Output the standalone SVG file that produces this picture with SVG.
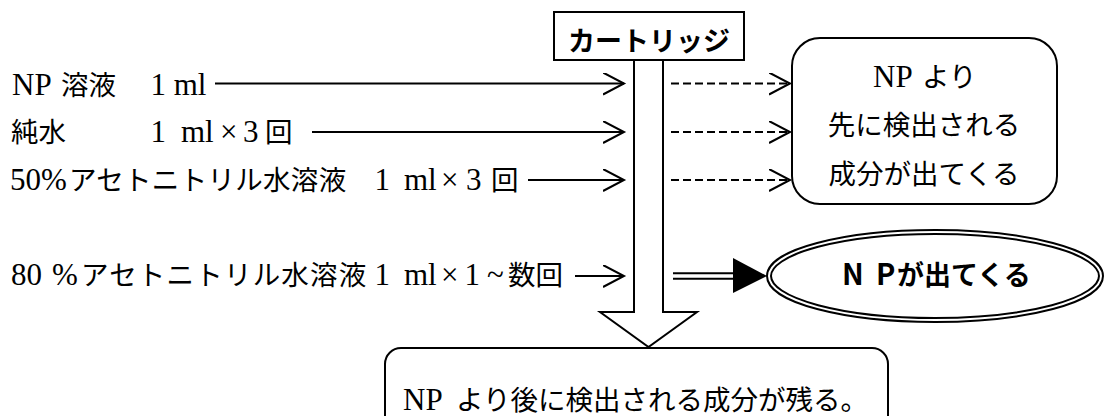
<svg xmlns="http://www.w3.org/2000/svg" width="1104" height="416" viewBox="0 0 1104 416">
<style>
.t{font-family:"Liberation Serif","Noto Sans CJK JP",serif;font-size:31px;fill:#000}
.j{font-family:"Noto Sans CJK JP",sans-serif;font-size:27.5px}
.b{font-family:"Noto Sans CJK JP",sans-serif;font-weight:700;font-size:27px;fill:#000}
.box{fill:#fff;stroke:#000;stroke-width:2}
.ln{stroke:#000;stroke-width:2;fill:none}
.dash{stroke:#000;stroke-width:2;fill:none;stroke-dasharray:8 4}
</style>
<defs>
<marker id="open" markerUnits="userSpaceOnUse" viewBox="0 0 24 24" markerWidth="24" markerHeight="24" refX="21" refY="11" orient="auto">
<path d="M0,0 L21,11 L0,22" fill="none" stroke="#000" stroke-width="2"/>
</marker>
</defs>
<rect width="1104" height="416" fill="#fff"/>

<g id="remain">
<rect class="box" x="385" y="348" width="503" height="110" rx="16"/>
<text class="t" y="410"><tspan x="403">NP</tspan><tspan class="j" x="456">より後に検出される成分が残る。</tspan></text>
</g>

<g id="cartridge">
<path class="box" d="M634,60 V312 H600 L648.5,347 L697,312 H663 V60"/>
<rect class="box" x="554" y="12" width="190" height="48"/>
<text class="b" x="649" y="51" text-anchor="middle">カートリッジ</text>
</g>

<g id="early">
<rect class="box" x="792" y="38" width="265" height="166" rx="28"/>
<text class="t" y="87"><tspan x="873">NP</tspan><tspan class="j" x="922">より</tspan></text>
<text class="t j" x="924" y="135" text-anchor="middle">先に検出される</text>
<text class="t j" x="924" y="184" text-anchor="middle">成分が出てくる</text>
</g>

<g id="np-out">
<ellipse cx="935" cy="276" rx="166" ry="44" fill="#fff" stroke="#000" stroke-width="6"/>
<ellipse cx="935" cy="276" rx="166" ry="44" fill="none" stroke="#fff" stroke-width="2"/>
<text class="b" y="285"><tspan x="842" font-size="29">N</tspan><tspan x="876" font-size="29">P</tspan><tspan x="897">が出てくる</tspan></text>
</g>

<g id="labels">
<text class="t" y="95"><tspan x="12">NP</tspan><tspan class="j" x="61">溶液</tspan><tspan x="150.5">1 ml</tspan></text>
<text class="t" y="142"><tspan class="j" x="11">純水</tspan><tspan x="150.5">1</tspan><tspan x="181">ml</tspan><tspan x="220">×</tspan><tspan x="243">3</tspan><tspan class="j" x="265">回</tspan></text>
<text class="t" y="190"><tspan x="10">50%</tspan><tspan class="j" x="69" letter-spacing="0.3">アセトニトリル水溶液</tspan><tspan x="374.5">1</tspan><tspan x="404">ml</tspan><tspan x="441">×</tspan><tspan x="466">3</tspan><tspan class="j" x="491">回</tspan></text>
<text class="t" y="285"><tspan x="11">80</tspan><tspan x="52">%</tspan><tspan class="j" x="81" letter-spacing="1.2">アセトニトリル水溶液</tspan><tspan x="374.5">1</tspan><tspan x="404">ml</tspan><tspan x="441">×</tspan><tspan x="464.5">1</tspan><tspan x="487">~</tspan><tspan class="j" x="508">数回</tspan></text>
</g>

<g id="connectors">
<path class="ln" d="M215,83.5 H624" marker-end="url(#open)"/>
<path class="ln" d="M312,132 H624" marker-end="url(#open)"/>
<path class="ln" d="M528,180 H624" marker-end="url(#open)"/>
<path class="ln" d="M575,276 H624" marker-end="url(#open)"/>
<path class="dash" d="M671,83.5 H790" marker-end="url(#open)"/>
<path class="dash" d="M671,132 H790" marker-end="url(#open)"/>
<path class="dash" d="M671,180 H790" marker-end="url(#open)"/>
<path d="M673,276 H735" stroke="#000" stroke-width="7.5" fill="none"/>
<path d="M673,276 H736" stroke="#fff" stroke-width="3.5" fill="none"/>
<polygon points="733,258 767,276 733,293" fill="#000"/>
</g>
</svg>
